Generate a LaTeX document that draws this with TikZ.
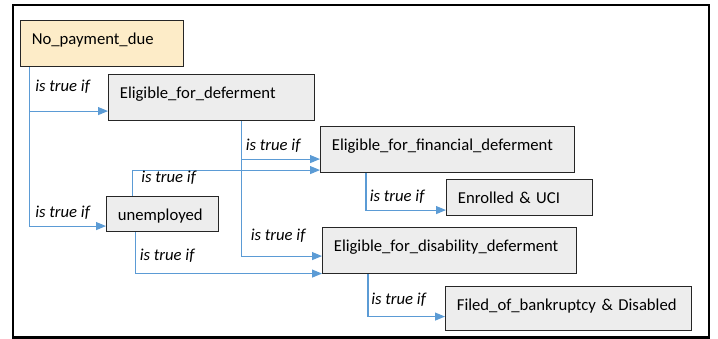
\documentclass[tikz,border=0pt]{standalone}
\usepackage{fontspec}
\setmainfont{Carlito}
\usetikzlibrary{arrows.meta,calc}
\definecolor{duefill}{HTML}{FDECC8}
\definecolor{boxgray}{HTML}{EDEDED}
\definecolor{linkblue}{HTML}{5B9BD5}
\tikzset{
  box/.style={draw=black!85,line width=0.8pt,fill=boxgray,anchor=north west,
    inner xsep=8.5pt,inner ysep=0pt,text height=18pt,align=left,
    font=\fontsize{12.5}{15}\selectfont},
  link/.style={draw=linkblue,line width=0.8pt,-{Triangle[length=7.5pt,width=6pt]}},
  cond/.style={anchor=base west,inner sep=0pt,font=\fontsize{12.5}{15}\selectfont\itshape}
}
\begin{document}
\begin{tikzpicture}[x=0.75pt,y=-0.75pt]
  \useasboundingbox (0,0) rectangle (718,339);
  \draw[line width=1.6pt] (13,5) rectangle (709,337.5);
  % boxes
  \node[box,fill=duefill,text width=105.25pt,text depth=16.5pt](due)at(20,20){No\_payment\_due};
  \node[box,text width=137.5pt,text depth=16.5pt](defer)at(108,74){Eligible\_for\_deferment};
  \node[box,text width=173.5pt,text depth=16.5pt](fin)at(320,126){Eligible\_for\_financial\_deferment};
  \node[box,text width=92.5pt,text depth=9pt](enrol)at(446,179){Enrolled \& UCI};
  \node[box,text width=67pt,text depth=8.25pt](unemp)at(106,196){unemployed};
  \node[box,text width=173.5pt,text depth=16.5pt](dis)at(322,227){Eligible\_for\_disability\_deferment};
  \node[box,text width=167.5pt,text depth=15pt](bank)at(445,286){Filed\_of\_bankruptcy \& Disabled};
  % connectors
  \draw[link]($(due.south west)+(9.5,0)$)|-($(defer.south west)+(0,-10)$);
  \draw[link]($(due.south west)+(9.5,0)$)|-($(unemp.south west)+(0,-6)$);
  \draw[link]($(defer.south west)+(133.5,0)$)|-($(fin.south west)+(0,-14)$);
  \draw[link]($(defer.south west)+(133.5,0)$)|-($(dis.south west)+(0,-18)$);
  \draw[link]($(unemp.north west)+(26.5,0)$)|-($(fin.south west)+(0,-3)$);
  \draw[link]($(unemp.south west)+(29.5,0)$)|-($(dis.south west)+(0,-0.5)$);
  \draw[link]($(fin.south west)+(46,0)$)|-($(enrol.south west)+(0,-6)$);
  \draw[link]($(dis.south west)+(46,0)$)|-($(bank.south west)+(0,-14.5)$);
  % labels
  \node[cond](c1)at(35,91){is true if};
  \node[cond](c2)at(35,217.5){is true if};
  \node[cond](c3)at(245.5,150){is true if};
  \node[cond](c4)at(141,182){is true if};
  \node[cond](c5)at(250.5,240){is true if};
  \node[cond](c6)at(139.5,260){is true if};
  \node[cond](c7)at(369.5,201.5){is true if};
  \node[cond](c8)at(371,304.5){is true if};
\end{tikzpicture}
\end{document}
